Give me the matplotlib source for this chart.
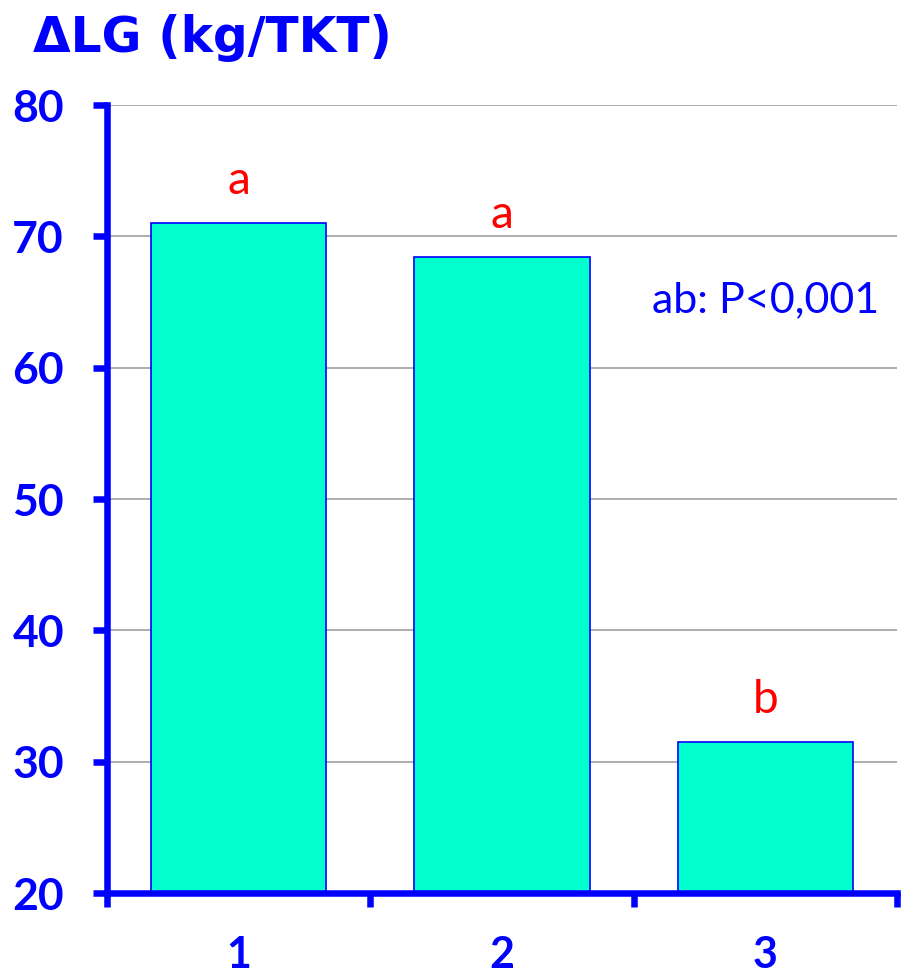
import numpy as np
import matplotlib
matplotlib.use("Agg")
import matplotlib.pyplot as plt
from matplotlib.ticker import FixedLocator, NullFormatter

# bar data
groups = ["1", "2", "3"]
values = [71.0, 68.4, 31.5]
letters = ["a", "a", "b"]
y_ticks = [20, 30, 40, 50, 60, 70, 80]

blue = "#0000FF"
fill = "#00FFCC"

fig = plt.figure(figsize=(9.03, 9.74), dpi=100)
ax = fig.add_axes([107 / 903, 1 - 893 / 974, 790 / 903, 788 / 974])

x = np.arange(1, len(groups) + 1)
ax.bar(x, values, width=0.665, bottom=0, color=fill, edgecolor=blue,
       linewidth=1.2, zorder=3)

ax.set_xlim(0.5, 3.5)
ax.set_ylim(20, 80)

# grid lines
ax.set_yticks(y_ticks)
ax.yaxis.grid(True, color="#A0A0A0", linewidth=1.2, zorder=0)
ax.set_axisbelow(True)

# ticks marks between categories, labels at category centres
ax.xaxis.set_major_locator(FixedLocator([0.5, 1.5, 2.5, 3.5]))
ax.xaxis.set_major_formatter(NullFormatter())
ax.xaxis.set_minor_locator(FixedLocator(x))
ax.set_xticklabels(groups, minor=True)
ax.tick_params(axis="x", which="major", direction="out", length=10,
               width=4.7, color=blue)
ax.tick_params(axis="x", which="minor", length=0, pad=30,
               labelsize=31, labelcolor=blue)
ax.tick_params(axis="y", direction="out", length=10, width=4.7,
               color=blue, pad=21, labelsize=32, labelcolor=blue)
for lab in ax.get_xticklabels(minor=True) + ax.get_yticklabels():
    lab.set_fontfamily("Lato")
    lab.set_fontweight("bold")

for side in ["top", "right"]:
    ax.spines[side].set_visible(False)
for side in ["left", "bottom"]:
    ax.spines[side].set_color(blue)
    ax.spines[side].set_linewidth(4.7)
    ax.spines[side].set_zorder(4)

# significance letters
for xi, v, t in zip(x, values, letters):
    ax.annotate(t, (xi, v), xytext=(0, 21), textcoords="offset points",
                ha="center", va="baseline", color="red", fontsize=33,
                family="Lato")

ax.text(3, 64.2, "ab: P<0,001", ha="center", va="baseline", color=blue,
        fontsize=31, family="Lato")

fig.text(33 / 903, 1 - 52 / 974, "ΔLG (kg/TKT)", ha="left", va="baseline",
         color=blue, fontsize=35, fontweight="bold", family="DejaVu Sans")

fig.savefig("out.png", dpi=100)
